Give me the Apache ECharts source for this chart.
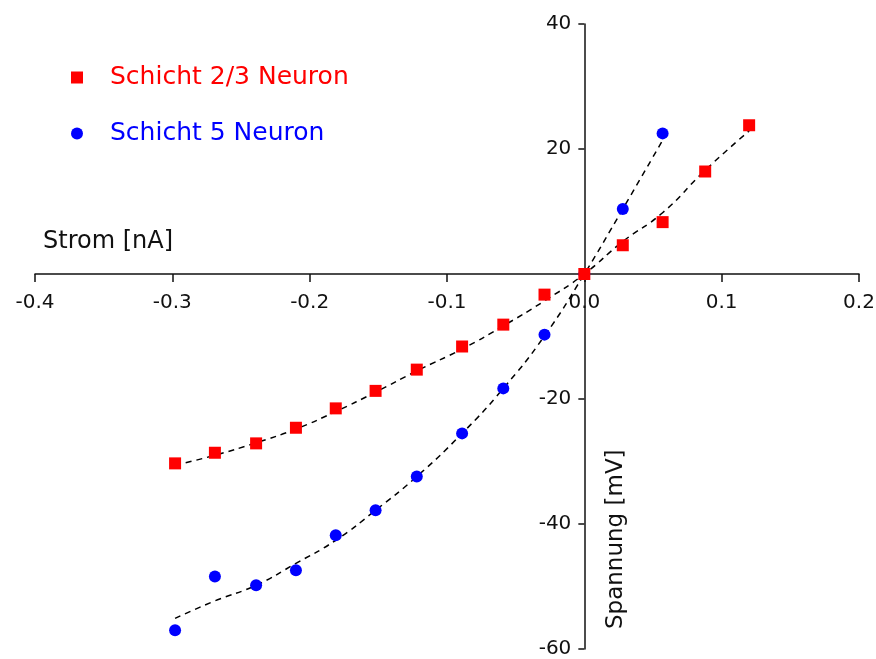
<!DOCTYPE html>
<html>
<head>
<meta charset="utf-8">
<script src="https://cdn.jsdelivr.net/npm/echarts@6/dist/echarts.min.js"></script>
<style>html,body{margin:0;padding:0;background:#fff}#c{width:876px;height:659px}</style>
</head>
<body>
<div id="c"></div>
<script>
// Data
const xTicks = [-0.4, -0.3, -0.2, -0.1, 0.0, 0.1, 0.2];
const yTicks = [-60, -40, -20, 0, 20, 40];

const l23X = [-0.298, -0.269, -0.239, -0.21, -0.181, -0.152, -0.122, -0.089, -0.059, -0.029, 0, 0.028, 0.057, 0.088, 0.12];
const l23Y = [-30.3, -28.6, -27.1, -24.6, -21.5, -18.7, -15.3, -11.6, -8.1, -3.3, 0, 4.6, 8.3, 16.4, 23.8];

const l5X = [-0.298, -0.269, -0.239, -0.21, -0.181, -0.152, -0.122, -0.089, -0.059, -0.029, 0, 0.028, 0.057];
const l5Y = [-57.0, -48.4, -49.8, -47.4, -41.8, -37.8, -32.4, -25.5, -18.3, -9.7, 0, 10.4, 22.5];

// Fitted curves (dashed)
const fit23X = [-0.298, -0.269, -0.239, -0.21, -0.181, -0.152, -0.122, -0.089, -0.059, -0.029, 0, 0.028, 0.057, 0.088, 0.12];
const fit23Y = [-30.6, -29.0, -27.0, -24.8, -22.0, -18.9, -15.5, -12.0, -8.3, -4.3, 0, 5.2, 9.8, 16.6, 22.9];

const fit5X = [-0.298, -0.269, -0.239, -0.21, -0.181, -0.152, -0.122, -0.089, -0.059, -0.029, 0, 0.028, 0.057];
const fit5Y = [-55.1, -52.3, -49.8, -46.3, -42.6, -37.8, -32.4, -25.5, -18.3, -9.9, 0, 10.4, 21.4];

const zip = (a, b) => a.map((v, i) => [v, b[i]]);
const FONT = 'DejaVu Sans';

const G = {left: 35, right: 17, top: 24, bottom: 10, W: 876, H: 659};
const xMin = xTicks[0], xMax = xTicks[xTicks.length - 1];
const yMin = yTicks[0], yMax = yTicks[yTicks.length - 1];
const gridW = G.W - G.left - G.right, gridH = G.H - G.top - G.bottom;
// shift the axes (with their labels) onto the zero lines
const yAxisOffset = -gridW * (0 - xMin) / (xMax - xMin);
const xAxisOffset = -gridH * (0 - yMin) / (yMax - yMin);

const chart = echarts.init(document.getElementById('c'), null, {renderer: 'canvas'});
chart.setOption({
  animation: false,
  backgroundColor: '#fff',
  grid: {left: G.left, right: G.right, top: G.top, bottom: G.bottom, containLabel: false, outerBoundsMode: 'none'},
  xAxis: {
    type: 'value', min: xMin, max: xMax, interval: 0.1, position: 'bottom', offset: xAxisOffset,
    axisLine: {onZero: false, lineStyle: {color: '#111', width: 1.5}},
    axisTick: {show: true, length: 8, lineStyle: {color: '#111', width: 1.5}},
    axisLabel: {margin: 19, fontFamily: FONT, fontSize: 20, color: '#111',
      formatter: v => Number(v).toFixed(1)},
    splitLine: {show: false}
  },
  yAxis: {
    type: 'value', min: yMin, max: yMax, interval: 20, position: 'left', offset: yAxisOffset,
    axisLine: {onZero: false, lineStyle: {color: '#111', width: 1.5}},
    axisTick: {show: true, length: 6, lineStyle: {color: '#111', width: 1.5}},
    axisLabel: {margin: 13, fontFamily: FONT, fontSize: 20, color: '#111',
      formatter: v => (v === 0 ? '' : String(v))},
    splitLine: {show: false}
  },
  legend: {
    orient: 'vertical', left: 66, top: 60, itemWidth: 56, itemHeight: 12,
    itemGap: 31, symbolKeepAspect: true,
    textStyle: {fontFamily: FONT, fontSize: 25},
    data: [
      {name: 'Schicht 2/3 Neuron', icon: 'path://M0,0L12,0L12,12L0,12Z', textStyle: {color: '#ff0000'}},
      {name: 'Schicht 5 Neuron', icon: 'path://M6,0A6,6,0,1,1,6,12A6,6,0,1,1,6,0Z', textStyle: {color: '#0000ff'}}
    ]
  },
  graphic: [
    {type: 'text', left: 43, top: 230, style: {text: 'Strom [nA]', font: '24px "DejaVu Sans"', fill: '#111'}},
    {type: 'text', x: 605, y: 629, rotation: Math.PI / 2,
      style: {text: 'Spannung [mV]', font: '23px "DejaVu Sans"', fill: '#111', textAlign: 'left', textVerticalAlign: 'top'}}
  ],
  series: [
    {name: 'fit5', type: 'line', smooth: true, symbol: 'none', data: zip(fit5X, fit5Y),
      lineStyle: {color: '#000', width: 1.5, type: [6, 5]}, z: 1, silent: true},
    {name: 'fit23', type: 'line', smooth: true, symbol: 'none', data: zip(fit23X, fit23Y),
      lineStyle: {color: '#000', width: 1.5, type: [6, 5]}, z: 1, silent: true},
    {name: 'Schicht 5 Neuron', type: 'scatter', symbol: 'circle', symbolSize: 12,
      itemStyle: {color: '#0000ff', opacity: 1}, data: zip(l5X, l5Y), z: 3},
    {name: 'Schicht 2/3 Neuron', type: 'scatter', symbol: 'rect', symbolSize: 12,
      itemStyle: {color: '#ff0000', opacity: 1}, data: zip(l23X, l23Y), z: 4}
  ]
});
</script>
</body>
</html>
